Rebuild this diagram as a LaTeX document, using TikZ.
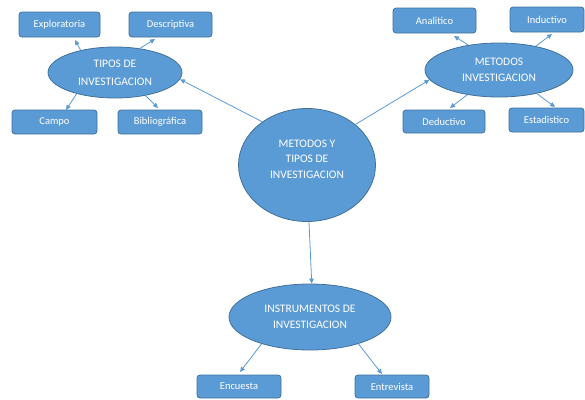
\documentclass[tikz,border=0pt]{standalone}
\usepackage{fontspec}
\setmainfont{Carlito}
\usetikzlibrary{arrows.meta,shapes.geometric}
\definecolor{fillb}{RGB}{91,155,213}
\definecolor{edgeb}{RGB}{65,113,156}
\tikzset{
  boxn/.style={draw=edgeb,line width=0.8pt,fill=fillb,rounded corners=3pt,text=white,font=\fontsize{10.5}{12}\selectfont,inner sep=0pt},
  ell/.style={ellipse,draw=edgeb,line width=0.8pt,fill=fillb,text=white,align=center,inner sep=0pt,font=\fontsize{11.5}{15.5}\selectfont},
  txt/.style={text=white,align=center,inner sep=0pt,font=\fontsize{11.5}{15.5}\selectfont},
  arr/.style={draw=fillb,line width=0.8pt,-{Triangle[length=5pt,width=4.5pt]}}
}
\begin{document}
\begin{tikzpicture}[x=1pt,y=-1pt]
\useasboundingbox (0,0) rectangle (585,399);
% boxes
\node[boxn,minimum width=81pt,minimum height=25pt] (explor) at (59.5,24.5) {Exploratoria};
\node[boxn,minimum width=83pt,minimum height=25pt] (descr) at (170.5,24.5) {Descriptiva};
\node[boxn,minimum width=85pt,minimum height=24pt] (campo) at (54.5,122) {Campo};
\node[boxn,minimum width=84pt,minimum height=24pt] (biblio) at (160,122) {Bibliográfica};
\node[boxn,minimum width=83pt,minimum height=25pt] (anal) at (434.5,20.5) {Analitico};
\node[boxn,minimum width=74pt,minimum height=25pt] (induct) at (547,19.5) {Inductivo};
\node[boxn,minimum width=82pt,minimum height=23pt] (deduct) at (444,121.5) {Deductivo};
\node[boxn,minimum width=75pt,minimum height=24pt] (estad) at (546.5,120) {Estadistico};
\node[boxn,minimum width=84pt,minimum height=23pt] (encu) at (239,386.5) {Encuesta};
\node[boxn,minimum width=74pt,minimum height=23pt] (entre) at (392,386.5) {Entrevista};
% ellipses
\node[ell,minimum width=134pt,minimum height=51pt,font=\fontsize{11.5}{18}\selectfont] (tipos) at (115,72.5) {TIPOS DE\\INVESTIGACION};
\node[ell,minimum width=148pt,minimum height=54pt] (metodos) at (499,70) {METODOS\\INVESTIGACION};
\node[ell,minimum width=137pt,minimum height=113pt] (centro) at (307,165) {};
\node[txt] (centrotxt) at (307,159) {METODOS Y\\TIPOS DE\\INVESTIGACION};
\node[ell,minimum width=162pt,minimum height=66pt] (instr) at (310,317) {INSTRUMENTOS DE\\INVESTIGACION};
% arrow tips near boxes
\coordinate (t1) at (75,40);
\coordinate (t2) at (155,39);
\coordinate (t3) at (66,110);
\coordinate (t4) at (158,108);
\coordinate (t8) at (454,36);
\coordinate (t9) at (552,34);
\coordinate (t10) at (450,108);
\coordinate (t11) at (555,107);
\coordinate (t12) at (240,372);
\coordinate (t13) at (382,374);
% connectors
\draw[arr] (tipos.147) -- (t1);
\draw[arr] (tipos.44) -- (t2);
\draw[arr] (tipos.209) -- (t3);
\draw[arr] (tipos.323) -- (t4);
\draw[arr] (centro.136) -- (tipos.354);
\draw[arr] (centro.40) -- (metodos.188);
\draw[arr] (centro.272) -- (instr.87);
\draw[arr] (metodos.141) -- (t8);
\draw[arr] (metodos.33) -- (t9);
\draw[arr] (metodos.218) -- (t10);
\draw[arr] (metodos.328) -- (t11);
\draw[arr] (instr.209) -- (t12);
\draw[arr] (instr.331) -- (t13);
\end{tikzpicture}
\end{document}
